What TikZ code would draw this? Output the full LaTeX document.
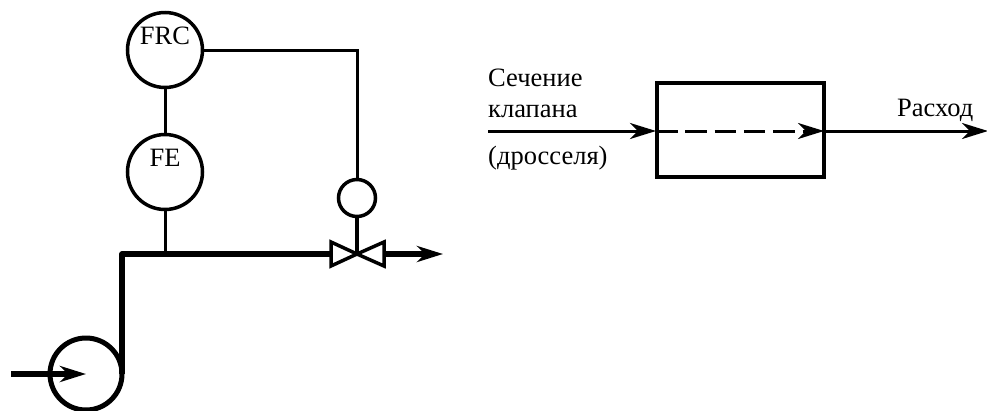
\documentclass[tikz,border=0pt]{standalone}
\usepackage{fontspec}
\setmainfont{Liberation Serif}
\usetikzlibrary{arrows.meta,calc}
\tikzset{
  instr/.style={draw,circle,line width=3.5pt,outer sep=0pt,inner sep=0pt,minimum size=75pt},
  thinline/.style={line width=3pt},
  pipe/.style={line width=5.5pt},
  tip/.style={-{Stealth[length=26pt,width=16pt,inset=8pt]}},
  lbl/.style={inner sep=0pt,anchor=base west,font=\fontsize{26.5}{30}\selectfont}
}
\begin{document}
\begin{tikzpicture}[x=1pt,y=-1pt]
  \useasboundingbox (0,0) rectangle (987,410);
  % instruments
  \node[instr] (frc) at (165,50) {};
  \node[instr] (fe) at (165,172) {};
  \node[instr,minimum size=37pt] (act) at (357,198) {};
  \node[instr,line width=5pt,minimum size=72pt] (pump) at (86,374) {};
  \node[lbl,anchor=center] (frctext) at (165,36) {FRC};
  \node[lbl,anchor=center] (fetext) at (165,157.5) {FE};
  \coordinate (corner) at (122,254);
  \coordinate (tap) at (165,254);
  \coordinate (valve) at (357,254);
  \coordinate (bend) at (357,50);
  \coordinate (pumpin) at (11,374);
  \coordinate (pipeout) at (443,254);
  % pipe
  \draw[pipe,line join=round] (pump.east) -- (corner) -- ($(valve)+(-26,0)$);
  \draw[pipe,tip] ($(valve)+(27,0)$) -- (pipeout);
  \draw[pipe,tip] (pumpin) -- (pump.center);
  % signal lines
  \draw[thinline] (frc) -- (fe);
  \draw[thinline] (fe) -- (tap);
  \draw[thinline] (frc) -- (bend) -- (act);
  \draw[line width=3.5pt] (act) -- (valve);
  % valve
  \draw[line width=3.5pt,line join=miter] (valve) -- ++(-26,-12) -- ++(0,24) -- cycle;
  \draw[line width=3.5pt,line join=miter] (valve) -- ++(27,-12) -- ++(0,24) -- cycle;
  % block
  \node[draw,line width=4pt,outer sep=0pt,inner sep=0pt,minimum width=167pt,minimum height=94pt] (block) at (740.5,130) {};
  \coordinate (secin) at (488,131);
  \coordinate (flowout) at (988,131);
  \coordinate (blockin) at (656,131);
  \coordinate (blockout) at (824,131);
  \draw[thinline,tip] (secin) -- (blockin);
  \draw[thinline,tip,dash pattern=on 21.5pt off 7.8pt] (blockin) -- (blockout);
  \draw[thinline,tip] (blockout) -- (flowout);
  % labels
  \node[lbl] (sec) at (488,86) {Сечение};
  \node[lbl] (kl) at (488,117) {клапана};
  \node[lbl] (dr) at (488,164) {(дросселя)};
  \node[lbl] (flow) at (897,116) {Расход};
\end{tikzpicture}
\end{document}
